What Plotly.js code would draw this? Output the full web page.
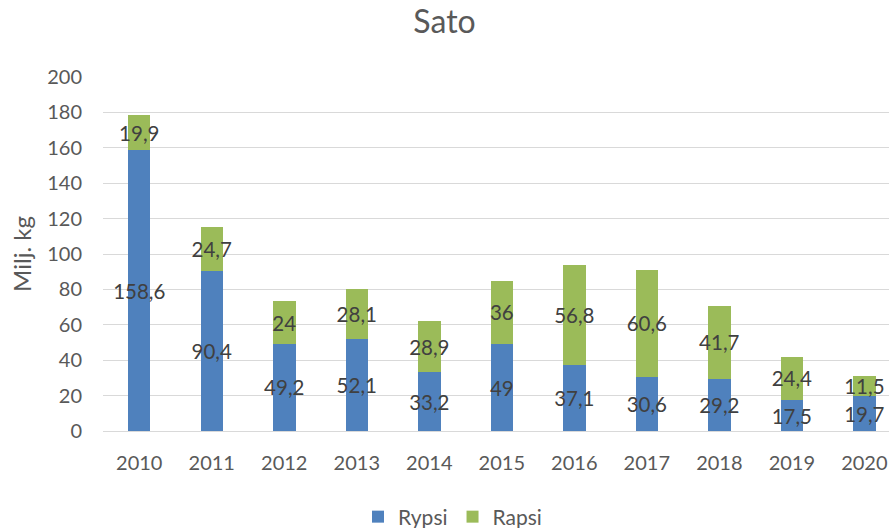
<!DOCTYPE html>
<html>
<head>
<meta charset="utf-8">
<script src="https://cdn.plot.ly/plotly-3.0.1.min.js"></script>
<style>
html,body{margin:0;padding:0;overflow:hidden;background:#fff;}
#chart{width:889px;height:528px;}
</style>
</head>
<body>
<div id="chart"></div>
<script>
const years = ['2010','2011','2012','2013','2014','2015','2016','2017','2018','2019','2020'];
const rypsi = [158.6, 90.4, 49.2, 52.1, 33.2, 49, 37.1, 30.6, 29.2, 17.5, 19.7];
const rapsi = [19.9, 24.7, 24, 28.1, 28.9, 36, 56.8, 60.6, 41.7, 24.4, 11.5];
const yTicks = [0, 20, 40, 60, 80, 100, 120, 140, 160, 180, 200];

const fmt = v => String(v).replace('.', ',');
const FONT = 'Lato, "Open Sans", sans-serif';
const labelFont = {family: FONT, size: 20.5, color: '#404040'};

function series(name, vals, color) {
  return {
    type: 'bar', name: name, x: years, y: vals,
    marker: {color: color},
    text: vals.map(fmt),
    textposition: 'inside',
    insidetextanchor: 'middle',
    constraintext: 'none',
    textangle: 0,
    insidetextfont: labelFont,
    textfont: labelFont,
    hoverinfo: 'x+y+name'
  };
}

const data = [
  series('Rypsi', rypsi, '#4F81BD'),
  series('Rapsi', rapsi, '#9BBB59')
];

const layout = {
  width: 889, height: 528,
  margin: {l: 103, r: 0, t: 77, b: 97, pad: 0},
  paper_bgcolor: '#fff', plot_bgcolor: '#fff',
  barmode: 'stack',
  bargap: 0.69,
  font: {family: FONT, size: 20, color: '#595959'},
  title: {text: 'Sato', font: {family: FONT, size: 32, color: '#595959'},
          x: 0.5, xanchor: 'center', xref: 'container', y: 1 - 22/528, yref: 'container', yanchor: 'middle'},
  xaxis: {
    type: 'category', range: [-0.5, 10.34],
    showgrid: false, zeroline: false, showline: false, ticks: '',
    tickfont: {family: FONT, size: 20, color: '#595959'},
    ticklabelstandoff: 18
  },
  yaxis: {
    range: [0, 200], tickvals: yTicks, ticktext: yTicks.map(String),
    showgrid: true, gridcolor: '#d9d9d9', gridwidth: 1,
    zeroline: true, zerolinecolor: '#d9d9d9', zerolinewidth: 1,
    showline: false, ticks: '',
    tickfont: {family: FONT, size: 20, color: '#595959'},
    ticklabelstandoff: 20,
    title: {text: 'Milj. kg', font: {family: FONT, size: 24, color: '#595959'}, standoff: 8}
  },
  showlegend: true,
  legend: {
    orientation: 'h', x: 0.5 + 8/889, xanchor: 'center', xref: 'container',
    y: 11/528, yref: 'container', yanchor: 'middle',
    font: {family: FONT, size: 21, color: '#595959'},
    traceorder: 'normal', itemwidth: 30
  }
};

Plotly.newPlot('chart', data, layout, {displayModeBar: false, staticPlot: true});
</script>
</body>
</html>
